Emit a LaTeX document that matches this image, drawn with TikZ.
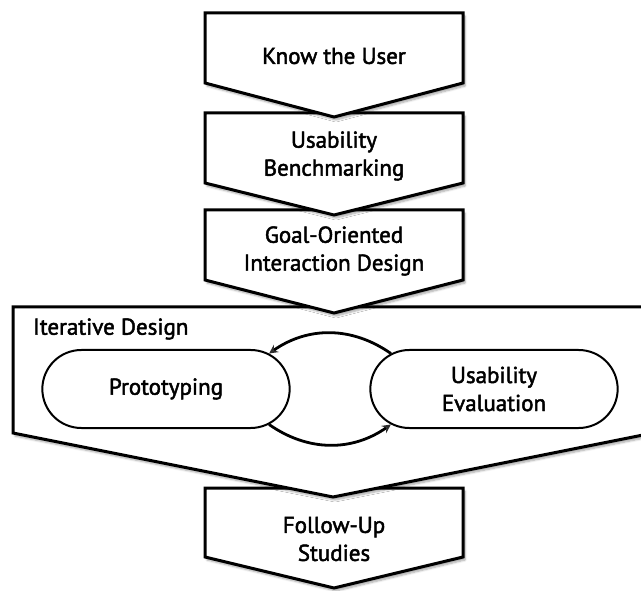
\documentclass[tikz,border=0pt]{standalone}
\usepackage{fontspec}
\setmainfont{PT Sans}
\newfontfamily\diafont{PT Sans}[FakeBold=2]
\usetikzlibrary{positioning, arrows, shapes.misc, shadows.blur}

\begin{document}
\begin{tikzpicture}[x=1pt, y=-1pt,
  chevron/.style={draw, line width=3pt, fill=white, line join=miter, blur shadow={shadow xshift=2pt, shadow yshift=-3pt, shadow blur steps=6, shadow opacity=35}},
  boxtext/.style={align=center, inner sep=0pt, font=\diafont\fontsize{23}{28}\selectfont},
  pill/.style={rounded rectangle, draw, line width=2pt, minimum width=254pt, minimum height=78pt, align=center, font=\diafont\fontsize{23}{28}\selectfont},
  arrow/.style={line width=2.8pt, ->, >=stealth}]

  \useasboundingbox (0,0) rectangle (641,591);

  % chevrons, drawn bottom up so each tip lies over the next box
  \draw[chevron] (205,488) -- (463,488) -- (463,557) -- (334,588) -- (205,557) -- cycle;
  \draw[chevron] (13,307) -- (653,307) -- (653,433) -- (333,497) -- (13,433) -- cycle;
  \draw[chevron] (205,210) -- (463,210) -- (463,280) -- (334,313) -- (205,280) -- cycle;
  \draw[chevron] (205,113) -- (463,113) -- (463,183) -- (334,215) -- (205,183) -- cycle;
  \draw[chevron] (205,13) -- (463,13) -- (463,83) -- (334,117) -- (205,83) -- cycle;

  \node (user) [boxtext] at (334,56) {Know the User};
  \node (bench) [boxtext] at (334,156) {Usability\\Benchmarking};
  \node (goal) [boxtext] at (334,251) {Goal-Oriented\\Interaction Design};
  \node (iter) [boxtext, anchor=west] at (33,329) {Iterative Design};
  \node (follow) [boxtext] at (334,539) {Follow-Up\\Studies};

  \node (proto) [pill] at (166,389) {Prototyping};
  \node (eval) [pill] at (494,389) {Usability\\Evaluation};

  \draw [arrow] (eval.161) to[bend right=35] (proto.19);
  \draw [arrow] (proto.-19) to[bend right=35] (eval.199);
\end{tikzpicture}
\end{document}
